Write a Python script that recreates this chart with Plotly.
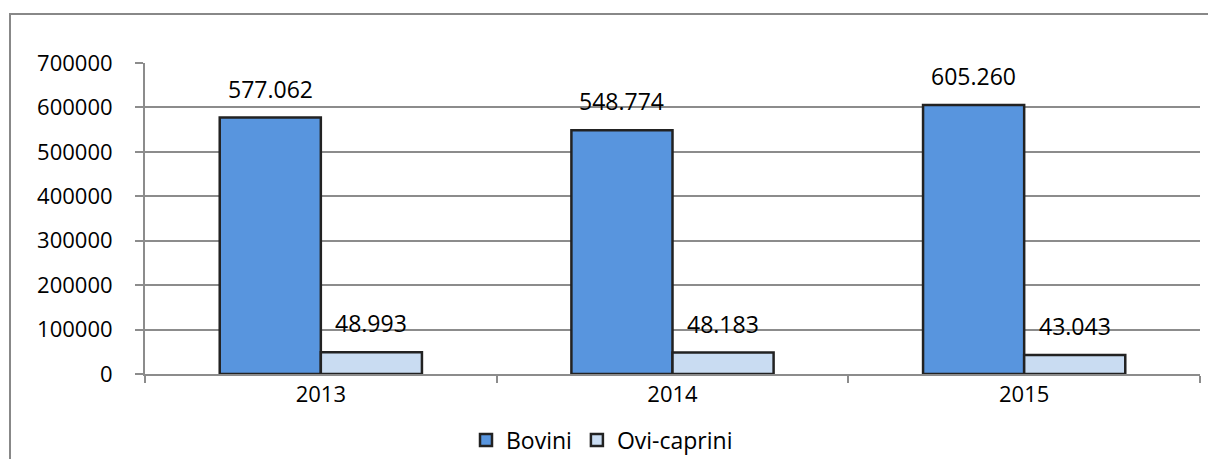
import plotly.graph_objects as go

years = ["2013", "2014", "2015"]
bovini = [577062, 548774, 605260]
ovi_caprini = [48993, 48183, 43043]
bovini_labels = ["577.062", "548.774", "605.260"]
ovi_labels = ["48.993", "48.183", "43.043"]
y_ticks = [0, 100000, 200000, 300000, 400000, 500000, 600000, 700000]

FONT = "Open Sans"
L, R, T, B = 145, 8, 63, 85
W, H = 1208, 459
pw, ph = W - L - R, H - T - B

fig = go.Figure()
fig.add_trace(go.Bar(name="Bovini", x=years, y=bovini,
                     marker=dict(color="#5895DE", line=dict(color="#222222", width=2.5))))
fig.add_trace(go.Bar(name="Ovi-caprini", x=years, y=ovi_caprini,
                     marker=dict(color="#C9DCF2", line=dict(color="#222222", width=2.5))))

bargap = 0.425
bw = (1 - bargap) / 2
annotations = []
for i in range(3):
    annotations.append(dict(x=i - bw / 2, y=bovini[i], xref="x", yref="y", text=bovini_labels[i],
                            showarrow=False, yanchor="bottom", yshift=11,
                            font=dict(family=FONT, size=23, color="#000")))
    annotations.append(dict(x=i + bw / 2, y=ovi_caprini[i], xref="x", yref="y", text=ovi_labels[i],
                            showarrow=False, yanchor="bottom", yshift=11,
                            font=dict(family=FONT, size=23, color="#000")))

def px2x(p):
    return (p - L) / pw

def py2y(p):
    return (H - B - p) / ph

fig.update_layout(
    width=W, height=H,
    margin=dict(l=L, r=R, t=T, b=B, autoexpand=False),
    paper_bgcolor="white", plot_bgcolor="white",
    barmode="group", bargap=bargap, bargroupgap=0,
    font=dict(family=FONT, size=22, color="#000"),
    showlegend=True,
    legend=dict(orientation="h", xref="container", yref="container",
                x=602 / W, xanchor="center", y=1 - 440 / H, yanchor="middle",
                font=dict(family=FONT, size=23), itemwidth=30, traceorder="normal"),
    annotations=annotations,
    shapes=[dict(type="rect", xref="paper", yref="paper",
                 x0=px2x(10), x1=px2x(1230), y0=py2y(490), y1=py2y(14),
                 line=dict(color="#888888", width=2), fillcolor="rgba(0,0,0,0)", layer="below")],
    xaxis=dict(type="category", showline=True, linecolor="#8c8c8c", linewidth=2, automargin=False,
               ticks="outside", tickson="boundaries", ticklen=7, tickcolor="#8c8c8c", tickwidth=2,
               showgrid=False, tickfont=dict(family=FONT, size=22)),
    yaxis=dict(range=[0, 700000], tickvals=y_ticks, ticktext=[str(v) for v in y_ticks],
               showline=True, linecolor="#8c8c8c", linewidth=2, automargin=False,
               ticks="outside", ticklen=8, tickcolor="#8c8c8c", tickwidth=2,
               showgrid=True, gridcolor="#8c8c8c", gridwidth=1.5, zeroline=False,
               ticklabelstandoff=18, tickfont=dict(family=FONT, size=22)),
)

fig.write_html("out.html", config={"displayModeBar": False},
               post_script="document.body.style.margin='0';document.body.style.overflow='hidden';")
